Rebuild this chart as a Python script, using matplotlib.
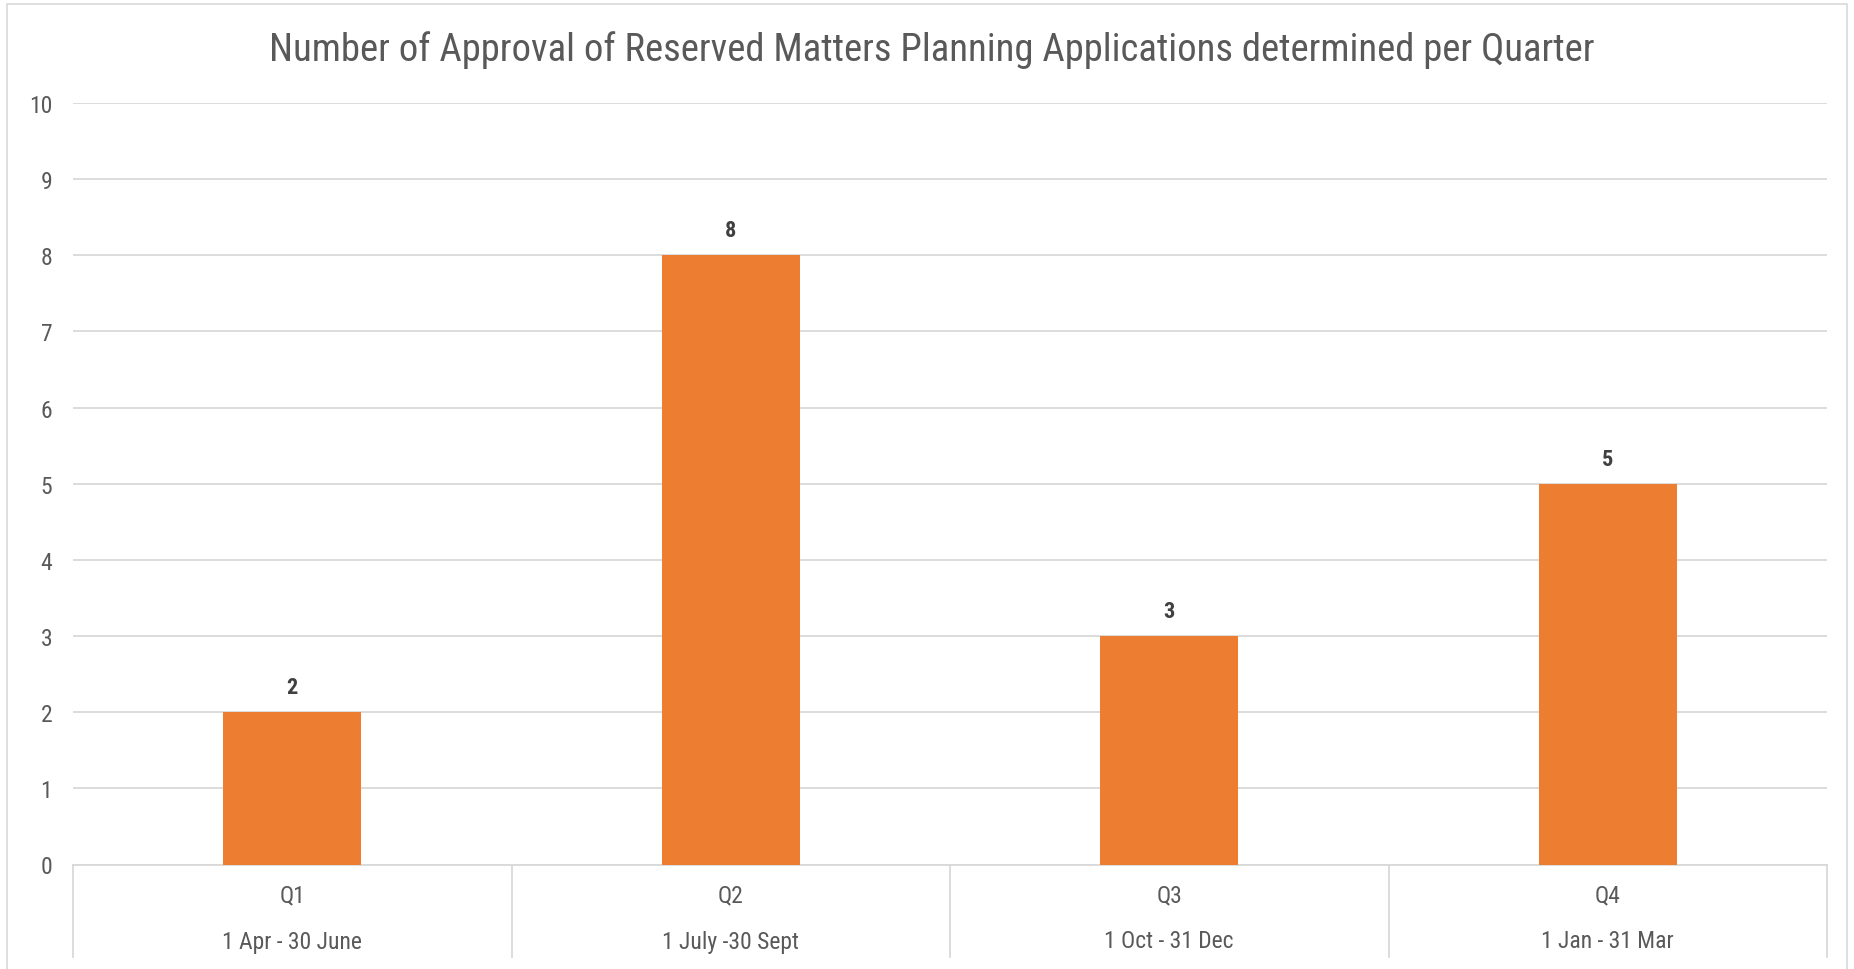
import matplotlib
matplotlib.use("Agg")
import matplotlib.pyplot as plt
from matplotlib.patches import Rectangle

quarters = ["Q1", "Q2", "Q3", "Q4"]
periods = ["1 Apr - 30 June", "1 July -30 Sept", "1 Oct - 31 Dec", "1 Jan - 31 Mar"]
values = [2, 8, 3, 5]
yticks = list(range(0, 11))
title = "Number of Approval of Reserved Matters Planning Applications determined per Quarter"

plt.rcParams["font.family"] = ["Roboto Condensed", "DejaVu Sans"]

W, H = 1854, 970
fig = plt.figure(figsize=(W / 100, H / 100), dpi=100)
fig.patch.set_facecolor("white")

fig.add_artist(Rectangle((7 / W, -0.01), (1847 - 7) / W, 1 - 5 / H + 0.01,
                         transform=fig.transFigure, fill=False,
                         edgecolor="#D9D9D9", linewidth=1.2))

left, right = 73 / W, 1827 / W
bottom, top = 1 - 865.5 / H, 1 - 104 / H
ax = fig.add_axes([left, bottom, right - left, top - bottom])

x = list(range(len(values)))
ax.bar(x, values, width=0.315, color="#ED7D31", zorder=3)
ax.set_xlim(-0.5, len(values) - 0.5)
ax.set_ylim(0, 10)
ax.set_yticks(yticks)
ax.set_yticklabels([str(t) for t in yticks], fontsize=17, color="#595959")
ax.tick_params(axis="y", length=0, pad=15)
ax.tick_params(axis="x", length=0, labelbottom=False)
ax.grid(axis="y", color="#D9D9D9", linewidth=1.3, zorder=0)
for s in ["top", "right", "left"]:
    ax.spines[s].set_visible(False)
ax.spines["bottom"].set_color("#D9D9D9")
ax.spines["bottom"].set_linewidth(1.3)

for xi, v in zip(x, values):
    ax.annotate(str(v), (xi, v), xytext=(0, 10), textcoords="offset points",
                ha="center", va="bottom", fontsize=16, fontweight="bold",
                color="#404040")

trans = ax.get_xaxis_transform()
sep_bottom = -(958 - 865.5) / 761.5
for b in [i - 0.5 for i in range(len(values) + 1)]:
    ax.plot([b, b], [0, sep_bottom], transform=trans, color="#D9D9D9",
            linewidth=1.3, clip_on=False)

for xi, q, p in zip(x, quarters, periods):
    ax.text(xi, -(896 - 865.5) / 761.5, q, transform=trans, ha="center",
            va="center", fontsize=17, color="#595959")
    ax.text(xi, -(942 - 865.5) / 761.5, p, transform=trans, ha="center",
            va="center", fontsize=17, color="#595959")

fig.text(932 / W, 1 - 50 / H, title, ha="center", va="center",
         fontsize=27.9, color="#595959")

fig.savefig("out.png", dpi=100)
